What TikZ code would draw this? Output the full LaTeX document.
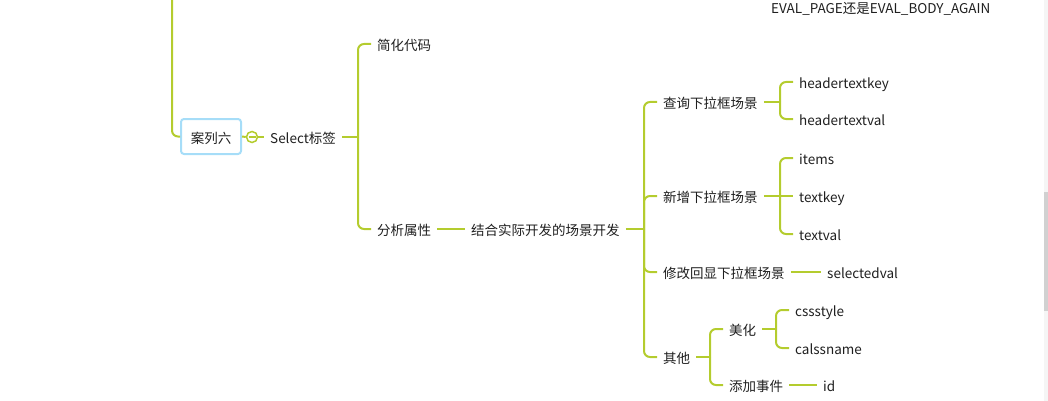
\documentclass[tikz,border=0pt]{standalone}
\usepackage{fontspec}
\setmainfont{Noto Sans CJK SC}
\usetikzlibrary{positioning}
\definecolor{branch}{HTML}{B4CC2E}
\definecolor{rootblue}{HTML}{A6DDF8}

\begin{document}
\begin{tikzpicture}[x=1pt,y=-1pt,
    tnode/.style={inner xsep=6pt,inner ysep=2pt,anchor=west,text=black!88,text height=14pt,text depth=1pt,
                  font=\fontsize{13.5}{16}\selectfont},
    link/.style={draw=branch,line width=2pt},
    fork/.style={link,rounded corners=6pt}]
    \useasboundingbox (0,0) rectangle (1048,401);
    \fill[black!4] (1044,0) rectangle (1048,401);
    \fill[black!18] (1044,192) rectangle (1048,311);

    \node[tnode] (note) at (765,7) {EVAL\_PAGE还是EVAL\_BODY\_AGAIN};

    \node[draw=rootblue,line width=2pt,rounded corners=3pt,minimum width=60pt,minimum height=35pt,
          inner sep=2pt,text=black!88,text height=14pt,text depth=1pt,
          font=\fontsize{13.5}{16}\selectfont] (case6) at (211,136.5) {案列六};
    \node[circle,draw=branch,line width=1.5pt,fill=white,minimum size=11pt,inner sep=0pt] (fold) at (252,137) {};
    \node[tnode] (select) at (264,137) {Select标签};

    \node[tnode] (code) at (371,44) {简化代码};
    \node[tnode] (attr) at (371,229) {分析属性};
    \node[tnode] (scene) at (465,229) {结合实际开发的场景开发};

    \node[tnode] (query) at (657,102) {查询下拉框场景};
    \node[tnode] (add) at (657,196) {新增下拉框场景};
    \node[tnode] (edit) at (657,272) {修改回显下拉框场景};
    \node[tnode] (other) at (657,357) {其他};

    \node[tnode] (hkey) at (793,82) {headertextkey};
    \node[tnode] (hval) at (793,119) {headertextval};
    \node[tnode] (items) at (793,158) {items};
    \node[tnode] (tkey) at (793,196) {textkey};
    \node[tnode] (tval) at (793,234) {textval};
    \node[tnode] (sel) at (821,272) {selectedval};
    \node[tnode] (beauty) at (723,329) {美化};
    \node[tnode] (event) at (723,385) {添加事件};
    \node[tnode] (css) at (789,310) {cssstyle};
    \node[tnode] (calss) at (789,348) {calssname};
    \node[tnode] (id) at (817,385) {id};

    \coordinate (top) at (172,0);
    \coordinate (t1) at (358,137);
    \coordinate (t2) at (644,229);
    \coordinate (t3) at (780,102);
    \coordinate (t4) at (780,196);
    \coordinate (t5) at (710,357);
    \coordinate (t6) at (776,329);

    \draw[fork] (top) |- (case6.west);
    \draw[link] (case6.east) -- (fold.west);
    \draw[branch,line width=1.5pt] (fold.center) ++(-3.5,0) -- ++(7,0);
    \draw[link] (fold.east) -- (select.west);

    \draw[link] (select.east) -- (t1);
    \draw[fork] (t1) |- (code.west);
    \draw[fork] (t1) |- (attr.west);
    \draw[link] (attr.east) -- (scene.west);

    \draw[link] (scene.east) -- (t2);
    \draw[fork] (t2) |- (query.west);
    \draw[fork] (t2) |- (add.west);
    \draw[fork] (t2) |- (edit.west);
    \draw[fork] (t2) |- (other.west);

    \draw[link] (query.east) -- (t3);
    \draw[fork] (t3) |- (hkey.west);
    \draw[fork] (t3) |- (hval.west);

    \draw[link] (add.east) -- (t4);
    \draw[fork] (t4) |- (items.west);
    \draw[link] (t4) -- (tkey.west);
    \draw[fork] (t4) |- (tval.west);

    \draw[link] (edit.east) -- (sel.west);

    \draw[link] (other.east) -- (t5);
    \draw[fork] (t5) |- (beauty.west);
    \draw[fork] (t5) |- (event.west);

    \draw[link] (beauty.east) -- (t6);
    \draw[fork] (t6) |- (css.west);
    \draw[fork] (t6) |- (calss.west);

    \draw[link] (event.east) -- (id.west);
\end{tikzpicture}
\end{document}
